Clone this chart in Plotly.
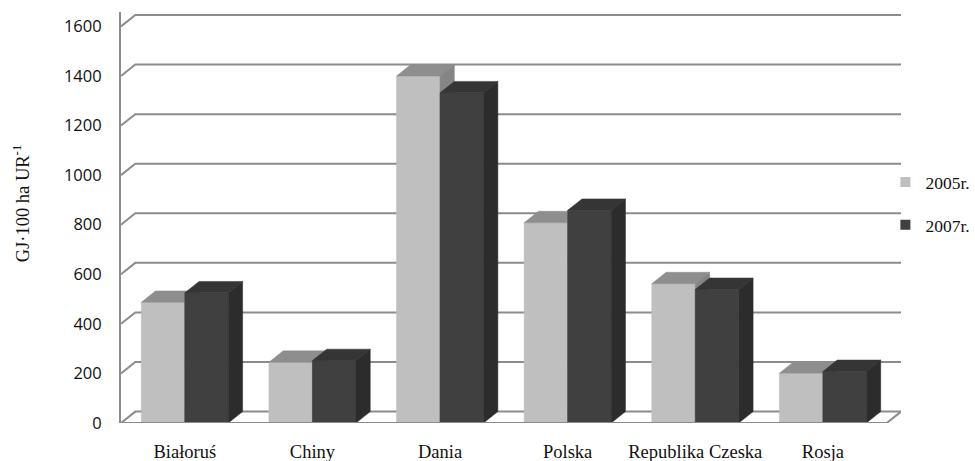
import plotly.graph_objects as go

# --- data -------------------------------------------------------------
categories = ["Białoruś", "Chiny", "Dania", "Polska", "Republika Czeska", "Rosja"]
series_names = ["2005r.", "2007r."]
values_2005 = [487, 245, 1400, 808, 562, 201]
values_2007 = [525, 252, 1332, 858, 539, 208]
y_ticks = [0, 200, 400, 600, 800, 1000, 1200, 1400, 1600]

# --- pseudo-3D styling ------------------------------------------------
DEPTH_X = 0.112      # depth offset in category units
DEPTH_Y = 46         # depth offset in value units
BAR_W = 0.341        # width of a single column (category units)
Y_MAX = 1658
X_MIN, X_MAX = -0.5, len(categories) - 0.5 + DEPTH_X

face_colors = {
    "2005r.": {"front": "#bfbfbf", "top": "#8e8e8e", "side": "#858585"},
    "2007r.": {"front": "#404040", "top": "#353535", "side": "#2c2c2c"},
}
GRID_COLOR = "#8c8c8c"
SERIF = "Liberation Serif, Times New Roman, serif"
SERIF_SIZE = 18.5

fig = go.Figure()

# back wall gridlines with the short diagonal ticks on the left wall
gx, gy = [], []
for v in y_ticks:
    gx += [X_MIN, X_MIN + DEPTH_X, len(categories) - 0.5 + DEPTH_X, None]
    gy += [v, v + DEPTH_Y, v + DEPTH_Y, None]
fig.add_trace(go.Scatter(x=gx, y=gy, mode="lines", hoverinfo="skip",
                         line=dict(color=GRID_COLOR, width=2), showlegend=False))


def column_faces(values, left_offset):
    """Polygons (None-separated) for the front, top and side faces."""
    front_x, front_y, top_x, top_y, side_x, side_y = [], [], [], [], [], []
    for i, v in enumerate(values):
        x0 = i + left_offset
        x1 = x0 + BAR_W
        front_x += [x0, x1, x1, x0, x0, None]
        front_y += [0, 0, v, v, 0, None]
        top_x += [x0, x1, x1 + DEPTH_X, x0 + DEPTH_X, x0, None]
        top_y += [v, v, v + DEPTH_Y, v + DEPTH_Y, v, None]
        side_x += [x1, x1 + DEPTH_X, x1 + DEPTH_X, x1, x1, None]
        side_y += [0, DEPTH_Y, v + DEPTH_Y, v, 0, None]
    return (front_x, front_y), (top_x, top_y), (side_x, side_y)


for name, vals, offset in [(series_names[0], values_2005, -BAR_W),
                           (series_names[1], values_2007, 0.0)]:
    faces = column_faces(vals, offset)
    for (fx, fy), face in zip(faces, ["front", "top", "side"]):
        col = face_colors[name][face]
        fig.add_trace(go.Scatter(
            x=fx, y=fy, mode="lines", fill="toself", fillcolor=col,
            line=dict(color=col, width=0.5), hoverinfo="skip",
            showlegend=False))

# floor outline (front edge and right edge)
n = len(categories)
fig.add_trace(go.Scatter(
    x=[X_MIN, n - 0.5, n - 0.5 + DEPTH_X],
    y=[0, 0, DEPTH_Y],
    mode="lines", line=dict(color=GRID_COLOR, width=2),
    hoverinfo="skip", showlegend=False))

# legend entries
for name in series_names:
    fig.add_trace(go.Scatter(
        x=[None], y=[None], mode="markers", name=name,
        legendgroup=name,
        marker=dict(symbol="square", size=10,
                    color=face_colors[name]["front"])))

fig.update_layout(
    width=975, height=461,
    margin=dict(l=121, r=975 - 121 - 780, t=12, b=38, autoexpand=False),
    paper_bgcolor="white", plot_bgcolor="white",
    showlegend=True,
    legend=dict(x=0.98, xanchor="left", y=0.63, yanchor="top",
                font=dict(family=SERIF, size=17.5, color="#111"),
                tracegroupgap=17, itemwidth=30,
                bgcolor="rgba(0,0,0,0)"),
    xaxis=dict(range=[X_MIN, X_MAX], showgrid=False, zeroline=False,
               tickmode="array", tickvals=list(range(n)), ticktext=categories,
               tickfont=dict(family=SERIF, size=SERIF_SIZE, color="#111"),
               ticks="", ticklabelstandoff=15, showline=False,
               automargin=False, fixedrange=True),
    yaxis=dict(range=[0, Y_MAX], showgrid=False, zeroline=False,
               tickmode="array", tickvals=y_ticks,
               tickfont=dict(family="Open Sans, sans-serif", size=16.5, color="#111"),
               ticks="", ticklabelstandoff=14,
               showline=True, linecolor=GRID_COLOR, linewidth=2,
               automargin=False, fixedrange=True),
    annotations=[dict(
        text="GJ·100 ha UR<sup>-1</sup>", textangle=-90,
        xref="paper", yref="paper", x=-0.128, y=0.535,
        xanchor="center", yanchor="middle", showarrow=False,
        font=dict(family=SERIF, size=SERIF_SIZE, color="#111"))],
)

fig.write_html("out.html")
